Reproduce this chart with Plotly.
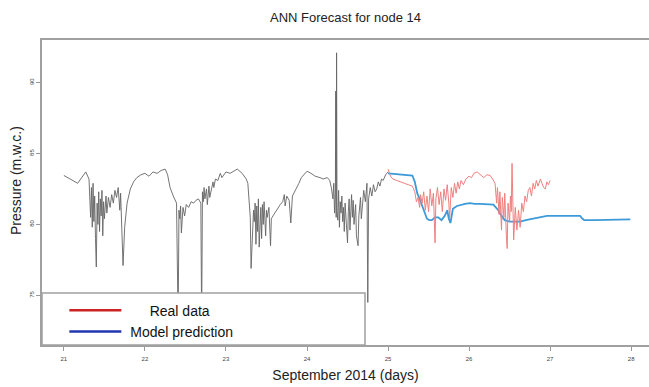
import plotly.graph_objects as go

# ---- data ----
hist_day = [21.00, 21.17, 21.27, 21.31, 21.33, 21.34, 21.35, 21.36, 21.37, 21.38, 21.39, 21.40, 21.41, 21.42,
            21.43, 21.44, 21.45, 21.46, 21.47, 21.48, 21.49, 21.50, 21.52, 21.53, 21.55, 21.57, 21.59, 21.61,
            21.63, 21.65, 21.67, 21.69, 21.70, 21.72, 21.73, 21.75, 21.78, 21.82, 21.86, 21.90, 21.95, 22.00,
            22.05, 22.10, 22.15, 22.20, 22.25, 22.28, 22.31, 22.35, 22.39, 22.41, 22.42, 22.43, 22.44, 22.45,
            22.46, 22.47, 22.49, 22.51, 22.54, 22.57, 22.60, 22.63, 22.66, 22.69, 22.70, 22.71, 22.72, 22.73,
            22.74, 22.76, 22.77, 22.79, 22.80, 22.82, 22.84, 22.85, 22.87, 22.90, 22.93, 22.95, 23.00, 23.05,
            23.10, 23.14, 23.20, 23.25, 23.27, 23.30, 23.31, 23.33, 23.34, 23.35, 23.36, 23.37, 23.38, 23.39,
            23.40, 23.41, 23.42, 23.43, 23.44, 23.45, 23.46, 23.47, 23.49, 23.50, 23.51, 23.53, 23.55, 23.56,
            23.58, 23.60, 23.62, 23.65, 23.67, 23.70, 23.72, 23.73, 23.75, 23.78, 23.80, 23.82, 23.85, 23.88,
            23.90, 23.93, 23.96, 24.00, 24.05, 24.10, 24.16, 24.20, 24.25, 24.28, 24.30, 24.32, 24.33, 24.34,
            24.35, 24.355, 24.36, 24.365, 24.37, 24.38, 24.39, 24.40, 24.41, 24.42, 24.43, 24.44, 24.45, 24.46,
            24.47, 24.48, 24.50, 24.51, 24.52, 24.53, 24.55, 24.56, 24.57, 24.58, 24.60, 24.61, 24.63, 24.64,
            24.66, 24.67, 24.68, 24.70, 24.72, 24.74, 24.75, 24.76, 24.78, 24.80, 24.82, 24.84, 24.86, 24.88,
            24.90, 24.92, 24.94, 24.97, 25.00]
hist_pressure = [83.45, 82.9, 83.7, 83.2, 80.5, 82.6, 79.8, 82.9, 80.2, 82.0, 79.0, 77.0, 81.5, 80.0,
                 82.3, 79.5, 81.8, 80.6, 82.4, 79.2, 81.6, 80.4, 82.0, 80.8, 81.9, 81.2, 82.1, 81.5,
                 82.4, 81.9, 82.6, 81.0, 82.2, 79.5, 77.1, 79.8, 81.5, 82.5, 83.0, 83.3, 83.5, 83.6,
                 83.4, 83.7, 83.6, 83.8, 83.9, 83.5, 82.6, 82.0, 81.5, 73.0, 81.0, 80.4, 81.3, 79.4,
                 80.8, 81.2, 80.6, 81.4, 81.2, 81.6, 81.5, 81.7, 81.8, 81.5, 73.0, 82.3, 81.6, 82.6,
                 81.8, 82.5, 81.4, 82.7, 81.9, 82.4, 83.0, 82.6, 83.2, 83.1, 83.6, 83.3, 83.7, 83.6,
                 83.8, 83.9, 83.6, 83.2, 82.9, 80.5, 76.9, 79.5, 81.0, 80.2, 81.5, 78.6, 81.3, 79.5,
                 81.8, 78.4, 80.6, 81.2, 79.0, 81.4, 80.0, 81.6, 79.2, 81.0, 80.5, 81.2, 78.5, 80.4,
                 80.6, 80.8, 81.0, 81.2, 81.4, 81.6, 82.1, 81.3, 82.0, 81.7, 80.1, 82.0, 82.3, 82.6,
                 82.9, 83.3, 83.5, 83.75, 83.6, 83.4, 83.3, 83.2, 83.3, 83.1, 82.6, 81.8, 82.9, 80.8,
                 82.2, 89.4, 80.5, 92.1, 81.0, 80.3, 82.4, 79.8, 81.6, 80.8, 82.0, 80.2, 81.2, 79.5,
                 81.5, 80.4, 78.7, 80.9, 81.8, 79.6, 82.1, 80.5, 81.7, 80.0, 81.4, 79.2, 78.5, 80.6,
                 81.9, 80.4, 81.2, 82.4, 81.6, 82.9, 74.5, 81.8, 82.6, 82.0, 82.8, 82.3, 82.5, 83.0,
                 82.7, 83.2, 83.1, 83.5, 83.7]

real_day = [25.00, 25.03, 25.06, 25.10, 25.15, 25.20, 25.25, 25.30, 25.33, 25.35, 25.37, 25.39, 25.40, 25.42,
            25.44, 25.46, 25.48, 25.50, 25.52, 25.54, 25.56, 25.58, 25.59, 25.61, 25.63, 25.65, 25.67, 25.69,
            25.71, 25.73, 25.75, 25.76, 25.78, 25.80, 25.82, 25.84, 25.86, 25.88, 25.90, 25.93, 25.96, 26.00,
            26.03, 26.06, 26.10, 26.14, 26.18, 26.22, 26.26, 26.29, 26.32, 26.34, 26.35, 26.37, 26.38, 26.40,
            26.41, 26.43, 26.44, 26.46, 26.47, 26.48, 26.50, 26.51, 26.52, 26.53, 26.54, 26.55, 26.57, 26.59,
            26.61, 26.63, 26.65, 26.67, 26.69, 26.71, 26.73, 26.75, 26.77, 26.79, 26.81, 26.83, 26.85, 26.88,
            26.90, 26.92, 26.94, 26.96, 26.98, 27.00]
real_pressure = [83.9, 83.4, 83.2, 83.1, 83.0, 82.9, 82.8, 82.7, 82.3, 81.6, 81.9, 81.2, 82.1, 81.5,
                 82.3, 81.0, 82.0, 80.9, 82.5, 81.3, 82.2, 78.7, 81.8, 82.6, 81.4, 82.3, 80.9, 82.5,
                 81.7, 82.8, 81.5, 80.4, 82.6, 81.9, 82.9, 82.2, 83.0, 82.5, 83.1, 82.8, 83.2, 83.4,
                 83.3, 83.6, 83.7, 83.5, 83.3, 83.5, 83.45, 83.2, 82.9, 81.5, 82.6, 80.7, 82.3, 79.6,
                 81.9, 80.5, 82.2, 79.2, 78.3, 81.5, 80.2, 82.0, 80.9, 84.3, 80.0, 78.9, 81.2, 79.6,
                 81.0, 79.8, 81.5, 80.9, 82.0, 81.6, 82.4, 82.6, 82.0, 82.9, 82.5, 83.1, 82.7, 83.2,
                 82.9, 82.6, 82.5, 83.0, 82.8, 83.1]

pred_day = [25.00, 25.10, 25.20, 25.30, 25.33, 25.36, 25.39, 25.42, 25.45, 25.48, 25.51, 25.54, 25.58,
            25.62, 25.66, 25.70, 25.73, 25.75, 25.77, 25.80, 25.85, 25.90, 25.95, 26.01, 26.07, 26.14,
            26.22, 26.30, 26.33, 26.36, 26.40, 26.44, 26.50, 26.56, 26.63, 26.70, 26.80, 26.88, 26.96,
            27.10, 27.25, 27.37, 27.40, 27.42, 27.55, 27.70, 27.86, 27.94, 27.99]
pred_pressure = [83.6, 83.55, 83.5, 83.45, 83.0, 82.2, 81.8, 81.3, 80.9, 80.4, 80.3, 80.3, 80.5,
                 80.5, 80.3, 80.6, 81.0, 80.4, 80.1, 81.1, 81.3, 81.4, 81.45, 81.5, 81.45, 81.45,
                 81.4, 81.4, 81.2, 81.0, 80.6, 80.3, 80.2, 80.2, 80.2, 80.3, 80.4, 80.5, 80.6,
                 80.6, 80.6, 80.6, 80.4, 80.3, 80.3, 80.3, 80.3, 80.35, 80.35]

x_ticks = [21, 22, 23, 24, 25, 26, 27, 28]
y_ticks = [75, 80, 85, 90]
legend_names = ["Real data", "Model prediction"]

FONT = "Liberation Sans, Arial, sans-serif"
W, H = 649, 387
PLOT_W, PLOT_H = 607, 305
NB = "\u00a0"

fig = go.Figure()
fig.add_trace(go.Scatter(x=hist_day, y=hist_pressure, mode="lines",
                         line=dict(color="#646464", width=0.9), showlegend=False))
fig.add_trace(go.Scatter(x=pred_day, y=pred_pressure, mode="lines",
                         line=dict(color="#3d9ad8", width=1.8), showlegend=False))
fig.add_trace(go.Scatter(x=real_day, y=real_pressure, mode="lines",
                         line=dict(color="#f07f7f", width=1.0), showlegend=False))
# legend entries (darker legend colours as in the reference)
fig.add_trace(go.Scatter(x=[None], y=[None], mode="lines",
                         name=NB * 6 + legend_names[0],
                         line=dict(color="#cc2222", width=2.5)))
fig.add_trace(go.Scatter(x=[None], y=[None], mode="lines", name=NB + legend_names[1],
                         line=dict(color="#2236b0", width=2.5)))

fig.update_layout(
    width=W, height=H,
    margin=dict(l=42, r=0, t=40, b=42),
    paper_bgcolor="white", plot_bgcolor="white",
    font=dict(family=FONT, color="#222"),
    title=dict(text="ANN Forecast for node 14", x=0.5, xref="paper", y=1 - 17 / H,
               yanchor="middle", font=dict(size=13, color="#222")),
    xaxis=dict(range=[20.73, 28.22], tickvals=x_ticks, ticktext=[str(v) for v in x_ticks],
               showgrid=False, zeroline=False, showline=True, mirror=True,
               linecolor="#a0a0a0", linewidth=1.5, ticks="outside", ticklen=4, tickcolor="#999",
               tickfont=dict(size=6, color="#444"), ticklabelstandoff=3,
               title=dict(text="September 2014 (days)", font=dict(size=14, color="#222"), standoff=9)),
    yaxis=dict(range=[71.5, 93.0], tickvals=y_ticks, ticktext=[str(v) for v in y_ticks],
               showgrid=False, zeroline=False, showline=True,
               linecolor="#a0a0a0", linewidth=1.5, ticks="outside", ticklen=4, tickcolor="#999",
               tickangle=-90, tickfont=dict(size=6, color="#444")),
    legend=dict(x=0.05 - 8 / PLOT_W, y=0.165, xanchor="left", yanchor="top", bgcolor="rgba(0,0,0,0)",
                borderwidth=0, font=dict(size=14, color="#111"), tracegroupgap=0, itemwidth=52),
    shapes=[dict(type="rect", xref="paper", yref="paper", x0=0.0, x1=323 / PLOT_W, y0=0.0, y1=52 / PLOT_H,
                 line=dict(color="#a0a0a0", width=1.5), fillcolor="white", layer="above")],
    annotations=[dict(text="Pressure (m.w.c.)", xref="paper", yref="paper",
                      x=-26 / PLOT_W, y=(345 - 181) / PLOT_H, textangle=-90,
                      showarrow=False, font=dict(size=14, color="#222"),
                      xanchor="center", yanchor="middle")],
)

# remove the browser's default 8px body margin so the figure fills the window exactly
fig.write_html("out.html", config={"displayModeBar": False},
               post_script="document.body.style.margin='0px';document.body.style.overflow='hidden';")
